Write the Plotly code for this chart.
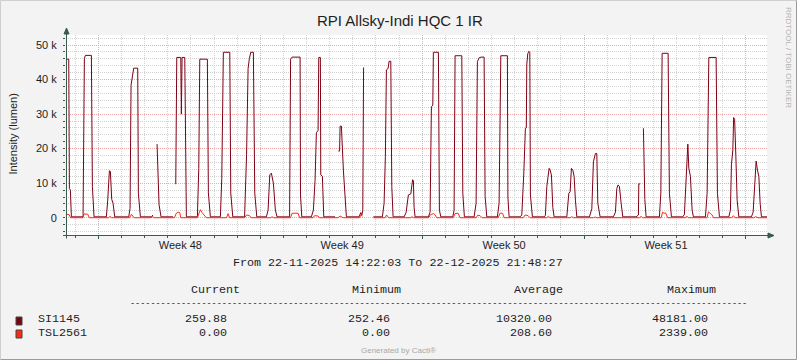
import plotly.graph_objects as go

# ---------------- data ----------------
title = "RPI Allsky-Indi HQC 1 IR"
y_title = "Intensity (lumen)"
t_start = "2025-11-22 14:22:03"
t_end = "2025-12-22 21:48:27"
period_text = "From 22-11-2025 14:22:03 To 22-12-2025 21:48:27"

series_names = ["SI1145", "TSL2561"]
stat_headers = ["Current", "Minimum", "Average", "Maximum"]
stat_si = ["259.88", "252.46", "10320.00", "48181.00"]
stat_tsl = ["0.00", "0.00", "208.60", "2339.00"]

y_tick_values = [0, 10000, 20000, 30000, 40000, 50000]
y_tick_labels = ["0", "10 k", "20 k", "30 k", "40 k", "50 k"]
week_tick_values = ["2025-11-27 13:00", "2025-12-04 13:00", "2025-12-11 13:00", "2025-12-18 13:00"]
week_tick_labels = ["Week 48", "Week 49", "Week 50", "Week 51"]

# SI1145 samples (time, lumen); None = gap in data
si_points = [
    ("2025-11-22 14:22", 45900), ("2025-11-22 17:14", 45900), ("2025-11-22 17:53", 8500),
    ("2025-11-22 18:55", 8000), ("2025-11-22 19:57", 260),
    ("2025-11-23 08:04", 260), ("2025-11-23 09:27", 46100), ("2025-11-23 10:29", 47000),
    ("2025-11-23 16:43", 47000), ("2025-11-23 17:45", 9000), ("2025-11-23 19:29", 260),
    ("2025-11-24 08:17", 260), ("2025-11-24 09:40", 5100), ("2025-11-24 11:24", 13600),
    ("2025-11-24 12:26", 13400), ("2025-11-24 13:49", 5300), ("2025-11-24 15:12", 4200),
    ("2025-11-24 16:56", 260),
    ("2025-11-25 07:28", 260), ("2025-11-25 08:50", 2700), ("2025-11-25 09:53", 38400),
    ("2025-11-25 11:37", 41800), ("2025-11-25 12:39", 43300), ("2025-11-25 16:48", 43300),
    ("2025-11-25 17:29", 7100), ("2025-11-25 19:34", 260),
    ("2025-11-26 07:22", 260), ("2025-11-26 08:24", 800), ("2025-11-26 09:30", None),
    ("2025-11-26 12:52", 21300), ("2025-11-26 14:57", 3700), ("2025-11-26 17:01", 260),
    ("2025-11-27 05:28", 260), ("2025-11-27 06:30", None), ("2025-11-27 08:16", 9700),
    ("2025-11-27 09:18", 46400), ("2025-11-27 13:28", 46400), ("2025-11-27 14:05", 30000),
    ("2025-11-27 14:49", 46400), ("2025-11-27 17:37", 46400), ("2025-11-27 19:16", 260),
    ("2025-11-28 06:42", 260), ("2025-11-28 08:09", 14300), ("2025-11-28 09:11", 45900),
    ("2025-11-28 17:04", 45900), ("2025-11-28 18:07", 7200), ("2025-11-28 20:11", 260),
    ("2025-11-29 06:34", 260), ("2025-11-29 08:01", 11400), ("2025-11-29 09:40", 47900),
    ("2025-11-29 16:19", 47900), ("2025-11-29 17:21", 7100), ("2025-11-29 19:26", 260),
    ("2025-11-30 07:41", 260), ("2025-11-30 09:45", 18200), ("2025-11-30 11:19", 43200),
    ("2025-11-30 12:40", 46100), ("2025-11-30 14:07", 47900), ("2025-11-30 16:49", 47900),
    ("2025-11-30 18:16", 7100), ("2025-11-30 20:20", 260),
    ("2025-12-01 06:18", 260), ("2025-12-01 08:04", 2200), ("2025-12-01 09:50", 12400),
    ("2025-12-01 11:29", 12900), ("2025-12-01 13:34", 10000), ("2025-12-01 15:38", 2200),
    ("2025-12-01 17:24", 260),
    ("2025-12-02 06:23", 260), ("2025-12-02 07:25", 45900), ("2025-12-02 08:59", 46500),
    ("2025-12-02 17:17", 46500), ("2025-12-02 17:42", 6600), ("2025-12-02 19:03", 260),
    ("2025-12-03 05:00", 260), ("2025-12-03 07:05", 2200), ("2025-12-03 08:50", 10900),
    ("2025-12-03 10:11", 24600), ("2025-12-03 11:57", 25300), ("2025-12-03 12:41", 46400),
    ("2025-12-03 14:20", 46400), ("2025-12-03 14:45", 12400), ("2025-12-03 16:25", 12000),
    ("2025-12-03 17:52", 260),
    ("2025-12-04 05:36", 260), ("2025-12-04 07:00", None), ("2025-12-04 09:02", 19300),
    ("2025-12-04 10:16", 19300), ("2025-12-04 10:47", 26500), ("2025-12-04 12:08", 26500),
    ("2025-12-04 14:13", 13800), ("2025-12-04 15:40", 6100), ("2025-12-04 17:20", 260),
    ("2025-12-05 06:30", 260), ("2025-12-05 08:16", 1500), ("2025-12-05 09:18", 700),
    ("2025-12-05 10:21", 2000), ("2025-12-05 11:11", 43500), ("2025-12-05 12:00", None),
    ("2025-12-05 21:21", 260),
    ("2025-12-06 06:42", 260), ("2025-12-06 08:27", 4200), ("2025-12-06 09:48", 17700),
    ("2025-12-06 10:51", 42800), ("2025-12-06 12:37", 43200), ("2025-12-06 13:39", 45300),
    ("2025-12-06 15:25", 45300), ("2025-12-06 16:27", 9000), ("2025-12-06 17:48", 260),
    ("2025-12-07 05:13", 260), ("2025-12-07 07:17", 1500), ("2025-12-07 09:40", 6600),
    ("2025-12-07 12:10", 6900), ("2025-12-07 14:02", 11000), ("2025-12-07 14:52", 10700),
    ("2025-12-07 15:35", 3000), ("2025-12-07 16:38", 260),
    ("2025-12-08 06:26", 260), ("2025-12-08 08:12", 1600), ("2025-12-08 09:33", 32100),
    ("2025-12-08 11:00", 32600), ("2025-12-08 11:37", 47900), ("2025-12-08 16:49", 47900),
    ("2025-12-08 17:51", 2200), ("2025-12-08 19:18", 260),
    ("2025-12-09 07:45", 260), ("2025-12-09 09:06", 2200), ("2025-12-09 10:08", 46900),
    ("2025-12-09 17:05", 46900), ("2025-12-09 18:08", 7100), ("2025-12-09 19:47", 260),
    ("2025-12-10 05:52", 260), ("2025-12-10 07:56", 4200), ("2025-12-10 09:17", 45200),
    ("2025-12-10 11:03", 46300), ("2025-12-10 13:08", 46500), ("2025-12-10 16:14", 46500),
    ("2025-12-10 17:17", 6100), ("2025-12-10 19:03", 260),
    ("2025-12-11 06:02", 260), ("2025-12-11 07:48", 4200), ("2025-12-11 09:34", 46900),
    ("2025-12-11 16:25", 46900), ("2025-12-11 16:56", 6000), ("2025-12-11 18:11", 260),
    ("2025-12-12 05:36", 260), ("2025-12-12 07:22", 800), ("2025-12-12 09:26", 12900),
    ("2025-12-12 11:06", 25900), ("2025-12-12 12:02", 26000), ("2025-12-12 12:33", 44500),
    ("2025-12-12 13:36", 47500), ("2025-12-12 14:38", 48181), ("2025-12-12 15:40", 47900),
    ("2025-12-12 16:17", 6600), ("2025-12-12 18:22", 260),
    ("2025-12-13 06:49", 260), ("2025-12-13 07:51", 700), ("2025-12-13 09:18", 9000),
    ("2025-12-13 10:40", 12000), ("2025-12-13 11:42", 14300), ("2025-12-13 12:44", 13800),
    ("2025-12-13 14:05", 12400), ("2025-12-13 15:32", 3000), ("2025-12-13 16:53", 260),
    ("2025-12-14 06:04", 260), ("2025-12-14 08:09", 7100), ("2025-12-14 09:30", 7500),
    ("2025-12-14 10:51", 14300), ("2025-12-14 12:18", 13800), ("2025-12-14 13:39", 12000),
    ("2025-12-14 15:00", 5100), ("2025-12-14 16:27", 260),
    ("2025-12-15 05:31", 260), ("2025-12-15 08:01", 2600), ("2025-12-15 09:40", 16200),
    ("2025-12-15 10:43", 17200), ("2025-12-15 11:45", 18600), ("2025-12-15 13:12", 18600),
    ("2025-12-15 14:14", 4200), ("2025-12-15 16:38", 260),
    ("2025-12-16 06:26", 260), ("2025-12-16 08:31", 1600), ("2025-12-16 09:58", 8500),
    ("2025-12-16 11:19", 9500), ("2025-12-16 12:40", 9000), ("2025-12-16 14:26", 4200),
    ("2025-12-16 16:11", 260),
    ("2025-12-17 05:59", 260), ("2025-12-17 08:23", 800), ("2025-12-17 08:47", 9800),
    ("2025-12-17 10:08", 9800), ("2025-12-17 11:00", None), ("2025-12-17 13:34", 25900),
    ("2025-12-17 15:01", 5300), ("2025-12-17 16:22", 260),
    ("2025-12-18 06:10", 260), ("2025-12-18 07:38", 7100), ("2025-12-18 08:59", 47600),
    ("2025-12-18 15:12", 47600), ("2025-12-18 16:33", 7100), ("2025-12-18 18:38", 260),
    ("2025-12-19 06:27", 260), ("2025-12-19 08:07", 1000), ("2025-12-19 09:53", 12000),
    ("2025-12-19 11:39", 21300), ("2025-12-19 12:41", 14300), ("2025-12-19 14:20", 12000),
    ("2025-12-19 16:06", 2200), ("2025-12-19 17:27", 260),
    ("2025-12-20 05:55", 260), ("2025-12-20 07:41", 7100), ("2025-12-20 09:27", 46400),
    ("2025-12-20 17:01", 46400), ("2025-12-20 18:22", 7100), ("2025-12-20 20:27", 260),
    ("2025-12-21 06:12", 260), ("2025-12-21 07:51", 2200), ("2025-12-21 08:54", 15300),
    ("2025-12-21 10:21", 19600), ("2025-12-21 11:11", 29000), ("2025-12-21 12:13", 28500),
    ("2025-12-21 13:28", 18000), ("2025-12-21 14:49", 5100), ("2025-12-21 16:34", 260),
    ("2025-12-22 05:39", 260), ("2025-12-22 07:25", 1600), ("2025-12-22 08:46", 9500),
    ("2025-12-22 10:32", 16400), ("2025-12-22 11:53", 13800), ("2025-12-22 13:20", 12000),
    ("2025-12-22 14:41", 4200), ("2025-12-22 16:02", 260), ("2025-12-22 21:48", 260),
]

# TSL2561 samples (time, lumen)
tsl_points = [
    ("2025-11-22 14:22", 1000), ("2025-11-22 17:32", 900), ("2025-11-22 19:05", 0),
    ("2025-11-23 08:04", 0), ("2025-11-23 09:06", 1100), ("2025-11-23 12:56", 1000), ("2025-11-23 14:36", 0),
    ("2025-11-24 10:32", 0), ("2025-11-24 12:05", 400), ("2025-11-24 13:39", 0),
    ("2025-11-25 08:19", 0), ("2025-11-25 10:24", 1000), ("2025-11-25 11:57", 300), ("2025-11-25 13:31", 0),
    ("2025-11-26 06:38", 0), ("2025-11-26 08:12", 400), ("2025-11-26 09:45", 0),
    ("2025-11-27 07:02", 0), ("2025-11-27 08:35", 1200), ("2025-11-27 10:40", 1600),
    ("2025-11-27 12:25", 1500), ("2025-11-27 13:28", 0),
    ("2025-11-28 06:42", 0), ("2025-11-28 09:48", 2339), ("2025-11-28 11:34", 1500),
    ("2025-11-28 13:39", 800), ("2025-11-28 16:02", 0),
    ("2025-11-29 12:59", 0), ("2025-11-29 14:33", 1200), ("2025-11-29 16:06", 0),
    ("2025-11-30 07:41", 0), ("2025-11-30 09:45", 800), ("2025-11-30 12:52", 600), ("2025-11-30 14:26", 0),
    ("2025-12-01 10:40", 0), ("2025-12-01 12:13", 300), ("2025-12-01 13:46", 0),
    ("2025-12-02 07:25", 0), ("2025-12-02 08:59", 1300), ("2025-12-02 15:12", 1300), ("2025-12-02 16:46", 0),
    ("2025-12-03 06:46", 0), ("2025-12-03 08:19", 600), ("2025-12-03 11:57", 500), ("2025-12-03 13:31", 0),
    ("2025-12-04 08:43", 0), ("2025-12-04 10:47", 500), ("2025-12-04 13:55", 0),
    ("2025-12-05 07:02", 0), ("2025-12-05 08:35", 900), ("2025-12-05 10:08", 400),
    ("2025-12-05 11:00", None), ("2025-12-05 21:21", 0),
    ("2025-12-06 09:30", 0), ("2025-12-06 11:03", 800), ("2025-12-06 13:08", 0),
    ("2025-12-07 11:57", 0), ("2025-12-07 13:31", 300), ("2025-12-07 15:04", 0),
    ("2025-12-08 06:38", 0), ("2025-12-08 08:43", 900), ("2025-12-08 11:50", 1200),
    ("2025-12-08 13:23", 800), ("2025-12-08 15:09", 0),
    ("2025-12-09 08:04", 0), ("2025-12-09 10:08", 1200), ("2025-12-09 13:15", 1300), ("2025-12-09 15:20", 0),
    ("2025-12-10 07:56", 0), ("2025-12-10 09:30", 700), ("2025-12-10 12:05", 600), ("2025-12-10 14:10", 0),
    ("2025-12-11 06:46", 0), ("2025-12-11 08:50", 1300), ("2025-12-11 11:26", 1300), ("2025-12-11 12:59", 0),
    ("2025-12-12 08:43", 0), ("2025-12-12 10:47", 800), ("2025-12-12 13:55", 600), ("2025-12-12 15:59", 0),
    ("2025-12-13 09:06", 0), ("2025-12-13 10:58", 400), ("2025-12-13 12:44", 0),
    ("2025-12-14 09:30", 0), ("2025-12-14 11:16", 300), ("2025-12-14 12:55", 0),
    ("2025-12-15 09:40", 0), ("2025-12-15 11:26", 200), ("2025-12-15 13:12", 0),
    ("2025-12-16 10:16", 0), ("2025-12-16 11:37", 150), ("2025-12-16 12:52", 0),
    ("2025-12-17 09:37", 0), ("2025-12-17 11:11", 400), ("2025-12-17 12:44", 0),
    ("2025-12-18 07:56", 0), ("2025-12-18 09:30", 1600), ("2025-12-18 11:03", 1300),
    ("2025-12-18 12:37", 1400), ("2025-12-18 14:41", 0),
    ("2025-12-19 08:50", 0), ("2025-12-19 10:36", 400), ("2025-12-19 12:28", 0),
    ("2025-12-20 07:41", 0), ("2025-12-20 09:02", 1700), ("2025-12-20 11:19", 1200),
    ("2025-12-20 12:52", 800), ("2025-12-20 14:26", 0),
    ("2025-12-21 09:06", 0), ("2025-12-21 10:58", 600), ("2025-12-21 12:44", 0),
    ("2025-12-22 07:56", 0), ("2025-12-22 10:01", 300), ("2025-12-22 12:37", 0),
    ("2025-12-22 21:48", 0),
]

si_time = [p[0] for p in si_points]
si_value = [p[1] for p in si_points]
tsl_time = [p[0] for p in tsl_points]
tsl_value = [p[1] for p in tsl_points]

# ---------------- styling ----------------
W, H = 797, 360
L, R, T, B = 66, 30, 35, 125
PW, PH = W - L - R, H - T - B

SANS = "Liberation Sans, Arial, sans-serif"
MONO = "Liberation Mono, DejaVu Sans Mono, monospace"
SI_COLOR = "#800014"
TSL_COLOR = "#FF2A14"
AXIS_COLOR = "#3A5A4E"
MAJOR_GRID = "#EFA8A8"
MINOR_GRID = "#D2D2D2"
TEXT = "#1E1E1E"
BG = "#F3F3F3"


def px(x):
    return (x - L) / PW


def py(y):
    return (H - B - y) / PH


fig = go.Figure()
fig.add_trace(go.Scatter(x=si_time, y=si_value, mode="lines", name=series_names[0],
                         line=dict(color=SI_COLOR, width=1), connectgaps=False,
                         showlegend=False))
fig.add_trace(go.Scatter(x=tsl_time, y=tsl_value, mode="lines", name=series_names[1],
                         line=dict(color=TSL_COLOR, width=1), connectgaps=False,
                         showlegend=False))
# carrier for the week-label axis
fig.add_trace(go.Scatter(x=[t_start, t_end], y=[None, None], xaxis="x2", mode="lines",
                         showlegend=False, hoverinfo="skip"))

annotations = []


def add_text(text, x, y, size, family=SANS, color=TEXT, xanchor="center", angle=0):
    annotations.append(dict(text=text, x=px(x), y=py(y), xref="paper", yref="paper",
                            showarrow=False, xanchor=xanchor, yanchor="middle",
                            textangle=angle, borderpad=0,
                            font=dict(family=family, size=size, color=color)))


add_text(title, 399.5, 21, 15)
add_text(y_title, 12, 134.5, 11, angle=-90)
add_text("RRDTOOL / TOBI OETIKER", 789, 57, 8, color="#B4B4B4", angle=90)

MS = 11.7
add_text(period_text, 397.5, 263, MS, family=MONO)
for hdr, cx in zip(stat_headers, [215, 376, 538, 691.5]):
    add_text(hdr, cx, 290, MS, family=MONO)
add_text("-" * 121, 129, 303.5, 8.5, family=MONO, xanchor="left")
right_edges = [228, 390.5, 553, 709]
for name, stats, yrow in [(series_names[0], stat_si, 318.5), (series_names[1], stat_tsl, 332.5)]:
    add_text(name, 37, yrow, MS, family=MONO, xanchor="left")
    for s, xr in zip(stats, right_edges):
        add_text(s, xr, yrow, MS, family=MONO, xanchor="right")
add_text("Generated by Cacti®", 398, 350, 8, color="#A8A8A8")

shapes = []
# outer frame
shapes.append(dict(type="line", xref="paper", yref="paper", x0=px(0.5), x1=px(796.5), y0=py(0.5), y1=py(0.5), line=dict(color="#CFCFCF", width=1)))
shapes.append(dict(type="line", xref="paper", yref="paper", x0=px(0.5), x1=px(0.5), y0=py(0.5), y1=py(359.5), line=dict(color="#CFCFCF", width=1)))
shapes.append(dict(type="line", xref="paper", yref="paper", x0=px(0.5), x1=px(796.5), y0=py(359.5), y1=py(359.5), line=dict(color="#9A9A9A", width=1)))
shapes.append(dict(type="line", xref="paper", yref="paper", x0=px(796.5), x1=px(796.5), y0=py(0.5), y1=py(359.5), line=dict(color="#9A9A9A", width=1)))
# axis lines with arrows
shapes.append(dict(type="line", xref="paper", yref="paper", x0=px(63), x1=px(769), y0=py(235.5), y1=py(235.5), line=dict(color=AXIS_COLOR, width=1)))
shapes.append(dict(type="line", xref="paper", yref="paper", x0=px(66.5), x1=px(66.5), y0=py(238.5), y1=py(33), line=dict(color=AXIS_COLOR, width=1)))
shapes.append(dict(type="path", xref="paper", yref="paper",
                   path=f"M {px(768)} {py(233)} L {px(774)} {py(235.5)} L {px(768)} {py(238)} Z",
                   fillcolor=AXIS_COLOR, line=dict(color=AXIS_COLOR, width=1)))
shapes.append(dict(type="path", xref="paper", yref="paper",
                   path=f"M {px(64)} {py(34)} L {px(66.5)} {py(28)} L {px(69)} {py(34)} Z",
                   fillcolor=AXIS_COLOR, line=dict(color=AXIS_COLOR, width=1)))
# legend colour boxes
for col, (y0, y1) in zip([SI_COLOR, TSL_COLOR], [(317, 325), (330, 338)]):
    shapes.append(dict(type="rect", xref="paper", yref="paper", x0=px(16), x1=px(22),
                       y0=py(y1), y1=py(y0), fillcolor=col, line=dict(color="#3A4A44", width=1)))

DASH = "1px,1px"
fig.update_layout(
    width=W, height=H, autosize=False,
    margin=dict(l=L, r=R, t=T, b=B, pad=0),
    paper_bgcolor=BG, plot_bgcolor="#FFFFFF",
    showlegend=False,
    annotations=annotations, shapes=shapes,
    xaxis=dict(type="date", range=[t_start, t_end], tickmode="linear",
               tick0="2025-11-24", dtick=7 * 86400000, showticklabels=False,
               showgrid=True, gridcolor=MAJOR_GRID, griddash=DASH, gridwidth=1,
               ticks="outside", ticklen=3, tickcolor=AXIS_COLOR, tickwidth=1,
               zeroline=False, showline=False, fixedrange=True,
               minor=dict(tickmode="linear", tick0="2025-11-24", dtick=86400000,
                          showgrid=True, gridcolor=MINOR_GRID, griddash=DASH, gridwidth=1,
                          ticks="outside", ticklen=2, tickcolor=AXIS_COLOR)),
    xaxis2=dict(type="date", range=[t_start, t_end], overlaying="x", anchor="y", side="bottom",
                tickmode="array", tickvals=week_tick_values, ticktext=week_tick_labels,
                showgrid=False, ticks="", zeroline=False, showline=False, fixedrange=True,
                ticklabelstandoff=2,
                tickfont=dict(family=SANS, size=11, color=TEXT)),
    yaxis=dict(range=[-5000, 52900], tickmode="array", tickvals=y_tick_values,
               ticktext=y_tick_labels, showgrid=True, gridcolor=MAJOR_GRID,
               griddash=DASH, gridwidth=1, zeroline=False, showline=False,
               ticks="outside", ticklen=2, tickcolor=AXIS_COLOR, fixedrange=True,
               ticklabelstandoff=4,
               tickfont=dict(family=SANS, size=11, color=TEXT),
               minor=dict(tickmode="linear", tick0=0, dtick=2000, showgrid=True,
                          gridcolor=MINOR_GRID, griddash=DASH, gridwidth=1,
                          ticks="outside", ticklen=2, tickcolor=AXIS_COLOR)),
)

fig.write_html("out.html", config={"displayModeBar": False},
               post_script="document.body.style.margin='0';document.body.style.overflow='hidden';")
